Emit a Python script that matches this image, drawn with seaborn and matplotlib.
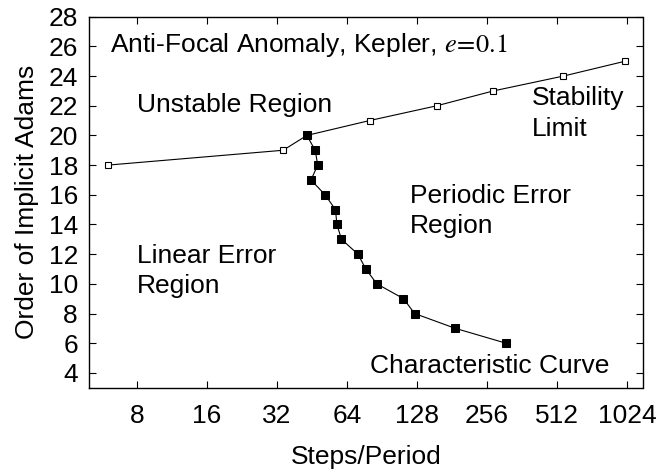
import matplotlib
matplotlib.use("Agg")
import matplotlib.pyplot as plt
import seaborn as sns
import pandas as pd
import numpy as np

# Stability limit (open squares)
stab_steps = [6, 34, 43, 80, 156, 273, 546, 1006]
stab_order = [18, 19, 20, 21, 22, 23, 24, 25]

# Characteristic curve (filled squares)
char_steps = [43, 46.7, 47.9, 44.8, 51.5, 57.1, 57.9, 60.6, 71.3, 77.1, 86, 112, 125, 187, 309]
char_order = [20, 19, 18, 17, 16, 15, 14, 13, 12, 11, 10, 9, 8, 7, 6]

xticks = [8, 16, 32, 64, 128, 256, 512, 1024]
yticks = list(range(4, 29, 2))

sns.set_theme(style="ticks")
plt.rcParams['font.family'] = ['Liberation Sans Narrow', 'Liberation Sans', 'DejaVu Sans']
plt.rcParams['mathtext.fontset'] = 'stix'
plt.rcParams['text.color'] = 'black'
plt.rcParams['axes.labelcolor'] = 'black'

fig = plt.figure(figsize=(6.72, 4.70), dpi=100)
ax = fig.add_axes([89/672, 1-387.7/470, (642.5-89)/672, (387.7-16.7)/470])

df_s = pd.DataFrame({"steps": stab_steps, "order": stab_order})
df_c = pd.DataFrame({"steps": char_steps, "order": char_order})

sns.lineplot(data=df_s, x="steps", y="order", ax=ax, sort=False, color="black",
             linewidth=0.8, marker="s", markersize=5, markerfacecolor="white",
             markeredgecolor="black", markeredgewidth=0.8)
sns.lineplot(data=df_c, x="steps", y="order", ax=ax, sort=False, color="black",
             linewidth=0.8, marker="s", markersize=5.5, markerfacecolor="black",
             markeredgecolor="black")

ax.set_xscale("log", base=2)
ax.set_xlim(4.97, 1195)
ax.set_ylim(3, 28)
ax.set_xticks(xticks)
ax.set_xticklabels([str(t) for t in xticks])
ax.set_yticks(yticks)
ax.set_yticklabels([str(t) for t in yticks])
ax.minorticks_off()
ax.tick_params(direction="in", top=True, right=True, length=5, width=0.8,
               labelsize=19, colors="black", pad=8)
ax.tick_params(axis="x", pad=12)
for s in ax.spines.values():
    s.set_linewidth(1.0)
    s.set_color("black")

ax.set_xlabel("Steps/Period", fontsize=19, labelpad=12, color="black")
ax.set_ylabel("Order of Implicit Adams", fontsize=19, labelpad=7, color="black")

fs = 19
ls = 1.33
ax.text(6.12, 26.1, r"Anti-Focal Anomaly, Kepler, $e\!=\!0.1$", fontsize=fs, ha="left", va="center")
ax.text(8, 22.05, "Unstable Region", fontsize=fs, ha="left", va="center")
ax.text(400, 21.47, "Stability\nLimit", fontsize=fs, ha="left", va="center", linespacing=ls)
ax.text(119.6, 14.9, "Periodic Error\nRegion", fontsize=fs, ha="left", va="center", linespacing=ls)
ax.text(8, 10.85, "Linear Error\nRegion", fontsize=fs, ha="left", va="center", linespacing=ls)
ax.text(80.4, 4.45, "Characteristic Curve", fontsize=fs, ha="left", va="center")

fig.savefig("out.png", dpi=100)
